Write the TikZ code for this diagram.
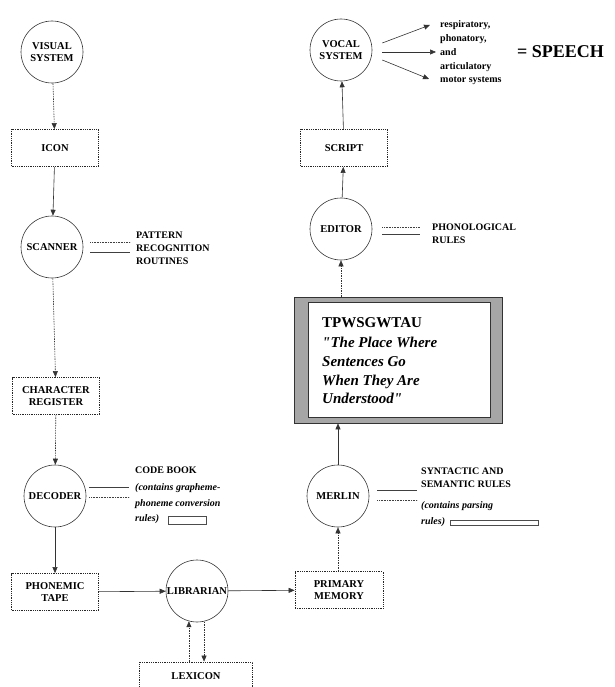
\documentclass[tikz,border=0pt]{standalone}
\usepackage{fontspec}
\setmainfont[Ligatures=TeXOff]{Liberation Serif}
\usetikzlibrary{arrows.meta,calc}
\tikzset{
  base/.style={font=\fontsize{10.5}{12.5}\selectfont\bfseries, align=center, inner sep=0pt},
  proc/.style={base, circle, draw=black!80, line width=0.6pt, minimum size=62pt},
  store/.style={base, rectangle, draw=black!85, densely dotted, line width=0.8pt, minimum width=87pt, minimum height=37pt},
  lbl/.style={font=\fontsize{10}{12.8}\selectfont\bfseries, align=left, inner sep=0pt, anchor=west},
  ilbl/.style={font=\fontsize{10}{15.5}\selectfont\bfseries\itshape, align=left, inner sep=0pt, anchor=west},
  conn/.style={draw=black!80, line width=0.6pt, -{Triangle[length=6pt,width=5pt]}},
  dconn/.style={conn, dash pattern=on 1.5pt off 1pt},
  tick/.style={draw=black!75, line width=0.6pt},
  dtick/.style={tick, densely dotted},
}
\begin{document}
\begin{tikzpicture}[x=1pt,y=-1pt]
\useasboundingbox (0,0) rectangle (614,687);
% left column
\node[proc] (vis) at (52,52) {VISUAL\\SYSTEM};
\node[store] (icon) at (55,148) {ICON};
\node[proc] (scan) at (52,247) {SCANNER};
\node[store] (char) at (56,396) {CHARACTER\\REGISTER};
\node[proc] (dec) at (55,496) {DECODER};
\node[store] (tape) at (55,592) {PHONEMIC\\TAPE};
\node[proc] (lib) at (197,591) {LIBRARIAN};
\node[store, minimum width=113pt, minimum height=40pt] (lex) at (196,682) {};
\node[base] (lextxt) at (196,676) {LEXICON};
\node[store, minimum width=88pt] (pm) at (339,590) {PRIMARY\\MEMORY};
% right column
\node[proc] (merlin) at (338,496) {MERLIN};
\node[rectangle, draw=black!80, line width=0.7pt, fill=black!35, minimum width=208pt, minimum height=126pt, inner sep=0pt] (tpw) at (398,360) {};
\node[rectangle, draw=black!80, line width=0.6pt, fill=white, minimum width=182pt, minimum height=115pt, inner sep=0pt] (tpwin) at (399,359.5) {};
\node[inner sep=0pt, anchor=west, font=\fontsize{15}{18}\selectfont\bfseries] (tpwt) at (322,323) {TPWSGWTAU};
\node[inner sep=0pt, anchor=north west, align=left, font=\fontsize{15}{18.7}\selectfont\bfseries\itshape] (tpwq) at (322,337) {"The Place Where\\Sentences Go\\When They Are\\Understood"};
\node[proc] (ed) at (341,229) {EDITOR};
\node[store] (script) at (344,148) {SCRIPT};
\node[proc] (voc) at (341,50) {VOCAL\\SYSTEM};
% vocal outputs
\node[lbl, font=\fontsize{10}{13.8}\selectfont\bfseries] (motor) at (440,53) {respiratory,\\phonatory,\\and\\articulatory\\motor systems};
\node[inner sep=0pt, anchor=west, font=\fontsize{18}{20}\selectfont\bfseries] (speech) at (517,52) {= SPEECH};
\coordinate (o1) at (430,25);
\coordinate (o2) at (436,52);
\coordinate (o3) at (429,79);
\draw[conn] ($(voc.east)+(10,-7)$) -- (o1);
\draw[conn] ($(voc.east)+(10,2)$) -- (o2);
\draw[conn] ($(voc.east)+(10,10)$) -- (o3);
% labels
\node[lbl] (patt) at (136,248) {PATTERN\\RECOGNITION\\ROUTINES};
\draw[dtick] ($(scan.east)+(7,-5)$) -- ++(40,0);
\draw[tick] ($(scan.east)+(7,5)$) -- ++(40,0);
\node[lbl] (code) at (135,470) {CODE BOOK};
\node[ilbl] (codei) at (135,504) {(contains grapheme-\\phoneme conversion\\rules)};
\draw[tick] ($(dec.east)+(3,-9)$) -- ++(40,0);
\draw[dtick] ($(dec.east)+(3,1)$) -- ++(40,0);
\node[draw=black!70, line width=0.6pt, minimum width=38pt, minimum height=8pt, inner sep=0pt] (cbox) at (187,520) {};
\node[lbl] (synt) at (421,478) {SYNTACTIC AND\\SEMANTIC RULES};
\node[ilbl] (parse) at (421,514) {(contains parsing\\rules)};
\draw[tick] ($(merlin.east)+(8,-6)$) -- ++(40,0);
\draw[dtick] ($(merlin.east)+(8,4)$) -- ++(40,0);
\node[draw=black!70, line width=0.6pt, minimum width=88pt, minimum height=5pt, inner sep=0pt] (pbox) at (494,522.5) {};
\node[lbl] (phon) at (432,233.5) {PHONOLOGICAL\\RULES};
\draw[dtick] ($(ed.east)+(10,-2)$) -- ++(38,0);
\draw[tick] ($(ed.east)+(10,5)$) -- ++(38,0);
% connectors
\draw[dconn] (vis) -- (icon);
\draw[conn] (icon) -- (scan);
\draw[dconn] (scan) -- (char);
\draw[dconn] (char) -- (dec);
\draw[conn] (dec) -- (tape);
\draw[conn] (tape) -- (lib);
\draw[conn] (lib) -- (pm);
\draw[dconn] (lib.-105 |- lex.north) -- (lib.-105);
\draw[dconn] (lib.-77) -- (lib.-77 |- lex.north);
\draw[dconn] (pm.north -| merlin.south) -- (merlin.south);
\draw[conn] (merlin) -- (merlin |- tpw.south);
\draw[dconn] (ed |- tpw.north) -- (ed.south);
\draw[conn] (ed) -- (script);
\draw[conn] (script) -- (voc);
\end{tikzpicture}
\end{document}
